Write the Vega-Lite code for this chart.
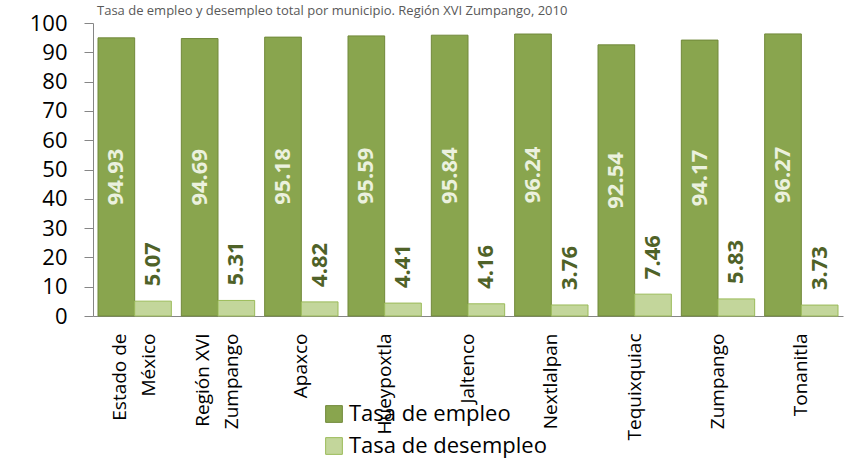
{
  "$schema": "https://vega.github.io/schema/vega-lite/v6.json",
  "autosize": "none",
  "width": 750,
  "height": 293,
  "padding": {"left": 93, "top": 23, "right": 24, "bottom": 143},
  "background": "white",
  "title": {
    "text": "Tasa de empleo y desempleo total por municipio. Región XVI Zumpango, 2010",
    "anchor": "start",
    "frame": "group",
    "dx": 4,
    "dy": 12,
    "offset": -4,
    "baseline": "alphabetic",
    "font": "Open Sans",
    "fontSize": 13,
    "fontWeight": "normal",
    "color": "#595959"
  },
  "config": {
    "view": {"stroke": null},
    "font": "Open Sans",
    "axisY": {
      "title": null,
      "grid": false,
      "labelOverlap": false,
      "labelFont": "Open Sans",
      "labelFontSize": 22,
      "labelColor": "#000000",
      "labelPadding": 17,
      "tickSize": 9,
      "tickColor": "#868686",
      "domainColor": "#868686"
    }
  },
  "data": {
    "values": [
      {"municipio": "Estado de\nMéxico", "serie": "Tasa de empleo", "valor": 94.93},
      {"municipio": "Estado de\nMéxico", "serie": "Tasa de desempleo", "valor": 5.07},
      {"municipio": "Región XVI\nZumpango", "serie": "Tasa de empleo", "valor": 94.69},
      {"municipio": "Región XVI\nZumpango", "serie": "Tasa de desempleo", "valor": 5.31},
      {"municipio": "Apaxco", "serie": "Tasa de empleo", "valor": 95.18},
      {"municipio": "Apaxco", "serie": "Tasa de desempleo", "valor": 4.82},
      {"municipio": "Hueypoxtla", "serie": "Tasa de empleo", "valor": 95.59},
      {"municipio": "Hueypoxtla", "serie": "Tasa de desempleo", "valor": 4.41},
      {"municipio": "Jaltenco", "serie": "Tasa de empleo", "valor": 95.84},
      {"municipio": "Jaltenco", "serie": "Tasa de desempleo", "valor": 4.16},
      {"municipio": "Nextlalpan", "serie": "Tasa de empleo", "valor": 96.24},
      {"municipio": "Nextlalpan", "serie": "Tasa de desempleo", "valor": 3.76},
      {"municipio": "Tequixquiac", "serie": "Tasa de empleo", "valor": 92.54},
      {"municipio": "Tequixquiac", "serie": "Tasa de desempleo", "valor": 7.46},
      {"municipio": "Zumpango", "serie": "Tasa de empleo", "valor": 94.17},
      {"municipio": "Zumpango", "serie": "Tasa de desempleo", "valor": 5.83},
      {"municipio": "Tonanitla", "serie": "Tasa de empleo", "valor": 96.27},
      {"municipio": "Tonanitla", "serie": "Tasa de desempleo", "valor": 3.73}
    ]
  },
  "encoding": {
    "x": {
      "field": "municipio",
      "type": "nominal",
      "sort": null,
      "scale": {"paddingInner": 0.12, "paddingOuter": 0.06},
      "axis": {
        "title": null,
        "labelAngle": -90,
        "labelAlign": "right",
        "labelBaseline": "middle",
        "labelExpr": "split(datum.label, '\\n')",
        "labelFont": "Open Sans",
        "labelFontSize": 19,
        "labelColor": "#000000",
        "labelPadding": 17,
        "labelLineHeight": 29,
        "labelOffset": {"condition": {"test": "indexof(datum.value, '\\n') >= 0", "value": -15}, "value": 0},
        "ticks": false,
        "domainColor": "#868686",
        "domainWidth": 1,
        "labelOverlap": false,
        "labelLimit": 300
      }
    },
    "xOffset": {"field": "serie", "type": "nominal", "sort": ["Tasa de empleo", "Tasa de desempleo"]}
  },
  "layer": [
    {
      "mark": {"type": "bar", "strokeWidth": 1},
      "encoding": {
        "y": {
          "field": "valor",
          "type": "quantitative",
          "scale": {"domain": [0, 100], "nice": false},
          "axis": {"values": [0, 10, 20, 30, 40, 50, 60, 70, 80, 90, 100]}
        },
        "color": {
          "field": "serie",
          "type": "nominal",
          "sort": ["Tasa de empleo", "Tasa de desempleo"],
          "scale": {"domain": ["Tasa de empleo", "Tasa de desempleo"], "range": ["#89A54E", "#C3D69B"]},
          "legend": {
            "title": null,
            "orient": "none",
            "legendX": 230,
            "legendY": 380,
            "symbolType": "square",
            "symbolSize": 280,
            "symbolStrokeWidth": 1,
            "symbolStrokeColor": "#8FA860",
            "labelFont": "Open Sans",
            "labelFontSize": 22,
            "labelColor": "#000000",
            "labelLimit": 400,
            "rowPadding": 10,
            "labelOffset": 4
          }
        },
        "stroke": {
          "field": "serie",
          "type": "nominal",
          "scale": {"domain": ["Tasa de empleo", "Tasa de desempleo"], "range": ["#71893A", "#9BBB59"]},
          "legend": null
        }
      }
    },
    {
      "transform": [
        {"filter": "datum.serie == 'Tasa de empleo'"},
        {"calculate": "datum.valor / 2", "as": "mid"}
      ],
      "mark": {"type": "text", "angle": 270, "align": "center", "baseline": "middle", "font": "Open Sans", "fontSize": 22, "fontWeight": "bold", "color": "#EBF1DE"},
      "encoding": {
        "y": {"field": "mid", "type": "quantitative", "axis": {"values": [0, 10, 20, 30, 40, 50, 60, 70, 80, 90, 100]}},
        "text": {"field": "valor", "type": "quantitative", "format": ".2f"}
      }
    },
    {
      "transform": [
        {"filter": "datum.serie == 'Tasa de desempleo'"}
      ],
      "mark": {"type": "text", "angle": 270, "align": "left", "baseline": "middle", "dx": 15, "font": "Open Sans", "fontSize": 22, "fontWeight": "bold", "color": "#4F6228"},
      "encoding": {
        "y": {"field": "valor", "type": "quantitative", "axis": {"values": [0, 10, 20, 30, 40, 50, 60, 70, 80, 90, 100]}},
        "text": {"field": "valor", "type": "quantitative", "format": ".2f"}
      }
    }
  ]
}
